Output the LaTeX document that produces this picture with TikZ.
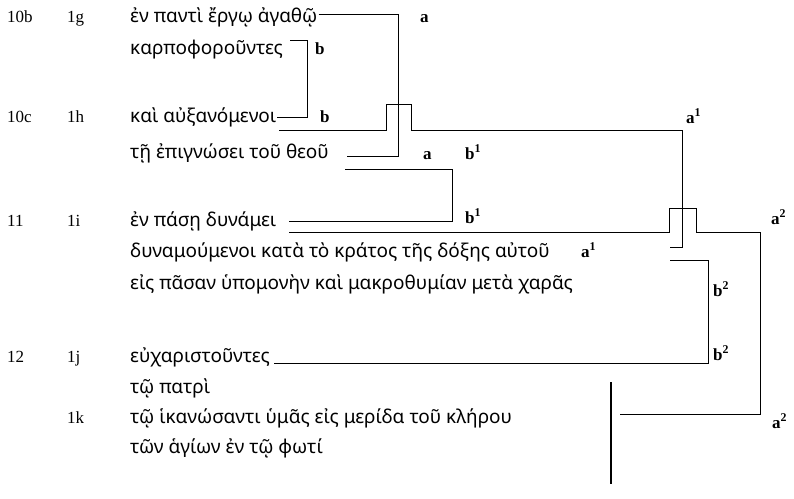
\documentclass[tikz,border=0pt]{standalone}
\usepackage{fontspec}
\setmainfont{Liberation Serif}
\newfontfamily\grfont{Noto Sans}
\begin{document}
\begin{tikzpicture}[x=1pt,y=-1pt,
  refn/.style={anchor=base west,inner sep=0pt,font=\fontsize{17}{17}\selectfont},
  gk/.style={anchor=base west,inner sep=0pt,font=\grfont\fontsize{19}{19}\selectfont},
  lab/.style={anchor=base west,inner sep=0pt,font=\bfseries\fontsize{17}{17}\selectfont},
  ln/.style={line width=0.9pt,line join=miter},
  barline/.style={line width=1.5pt}]
\useasboundingbox (0,0) rectangle (794,498);
% verse and line references
\node[refn] (v10b) at (7,22) {10b};
\node[refn] (n1g) at (67,22) {1g};
\node[refn] (v10c) at (7,122) {10c};
\node[refn] (n1h) at (67,122) {1h};
\node[refn] (v11) at (7,226) {11};
\node[refn] (n1i) at (67,226) {1i};
\node[refn] (v12) at (7,362) {12};
\node[refn] (n1j) at (67,362) {1j};
\node[refn] (n1k) at (67,423) {1k};
% Greek text
\node[gk] (t1) at (130,22) {ἐν παντὶ ἔργῳ ἀγαθῷ};
\node[gk] (t2) at (130,54) {καρποφοροῦντες};
\node[gk] (t3) at (130,122) {καὶ αὐξανόμενοι};
\node[gk] (t4) at (130,158) {τῇ ἐπιγνώσει τοῦ θεοῦ};
\node[gk] (t5) at (130,226) {ἐν πάσῃ δυνάμει};
\node[gk] (t6) at (130,257) {δυναμούμενοι κατὰ τὸ κράτος τῆς δόξης αὐτοῦ};
\node[gk] (t7) at (130,289) {εἰς πᾶσαν ὑπομονὴν καὶ μακροθυμίαν μετὰ χαρᾶς};
\node[gk] (t8) at (130,362) {εὐχαριστοῦντες};
\node[gk] (t9) at (130,393) {τῷ πατρὶ};
\node[gk] (t10) at (130,423) {τῷ ἱκανώσαντι ὑμᾶς εἰς μερίδα τοῦ κλήρου};
\node[gk] (t11) at (130,453) {τῶν ἁγίων ἐν τῷ φωτί};
% labels
\node[lab] (la1) at (420,22) {a};
\node[lab] (lb1) at (315,54) {b};
\node[lab] (lb2) at (320,122) {b};
\node[lab] (la2) at (423,159) {a};
\node[lab] (lb3) at (465,159) {b\textsuperscript{1}};
\node[lab] (lb4) at (465,223) {b\textsuperscript{1}};
\node[lab] (la3) at (686,123) {a\textsuperscript{1}};
\node[lab] (la4) at (581,257) {a\textsuperscript{1}};
\node[lab] (la5) at (771,224) {a\textsuperscript{2}};
\node[lab] (lb5) at (713,296) {b\textsuperscript{2}};
\node[lab] (lb6) at (713,360) {b\textsuperscript{2}};
\node[lab] (la6) at (772,428) {a\textsuperscript{2}};
% corner coordinates
\coordinate (a0) at (398,14);
\coordinate (a1) at (398,156);
\coordinate (aE) at (347,156);
\coordinate (bS) at (290,40);
\coordinate (b0) at (307,40);
\coordinate (b1) at (307,117);
\coordinate (c0) at (386,130);
\coordinate (c1) at (386,104);
\coordinate (c2) at (411,104);
\coordinate (c3) at (411,130);
\coordinate (c4) at (682,130);
\coordinate (c5) at (682,247);
\coordinate (cE) at (670,247);
\coordinate (dS) at (345,169);
\coordinate (d0) at (452,169);
\coordinate (d1) at (452,221);
\coordinate (dE) at (289,221);
\coordinate (eS) at (289,232);
\coordinate (e0) at (669,232);
\coordinate (e1) at (669,208);
\coordinate (e2) at (696,208);
\coordinate (e3) at (696,232);
\coordinate (e4) at (760,232);
\coordinate (e5) at (760,414);
\coordinate (eE) at (620,414);
\coordinate (fS) at (670,260);
\coordinate (f0) at (708,260);
\coordinate (f1) at (708,363);
\coordinate (gT) at (611,382);
\coordinate (gB) at (611,484);
% connectors
\draw[ln] ([xshift=1pt]t1.east |- a0) -- (a0) -- (a1) -- (aE);
\draw[ln] (bS) -- (b0) -- (b1) -- ([xshift=1pt]t3.east |- b1);
\draw[ln] ([xshift=3pt]t3.east |- c0) -- (c0) -- (c1) -- (c2) -- (c3) -- (c4) -- (c5) -- (cE);
\draw[ln] (dS) -- (d0) -- (d1) -- (dE);
\draw[ln] (eS) -- (e0) -- (e1) -- (e2) -- (e3) -- (e4) -- (e5) -- (eE);
\draw[ln] (fS) -- (f0) -- (f1) -- ([xshift=4pt]t8.east |- f1);
\draw[barline] (gT) -- (gB);
\end{tikzpicture}
\end{document}
